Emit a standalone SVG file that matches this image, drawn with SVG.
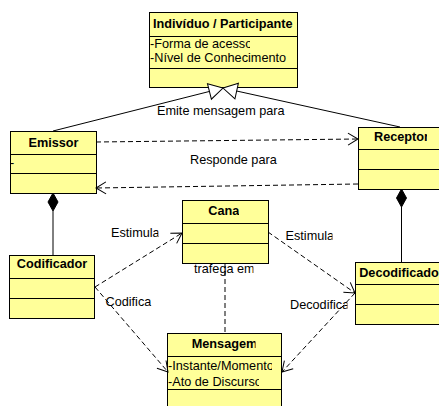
<svg xmlns="http://www.w3.org/2000/svg" width="439" height="406" viewBox="0 0 439 406">
<defs>
<style>
text{font-family:"Liberation Sans",Arial,sans-serif;font-size:12.7px;fill:#000}
.hd{font-weight:bold;text-anchor:middle}
.box{fill:#ffff99;stroke:#000;stroke-width:1}
.sep{stroke:#000;stroke-width:1}
.ln{fill:none;stroke:#000;stroke-width:1}
.dl{fill:none;stroke:#000;stroke-width:1;stroke-dasharray:5 3}
.dia{fill:#000;stroke:#000;stroke-width:1}
</style>
<!-- open arrowhead for dependencies -->
<marker id="open" viewBox="0 0 11 13" refX="10" refY="6.5" markerWidth="11" markerHeight="13" markerUnits="userSpaceOnUse" orient="auto" overflow="visible">
<path d="M0,0.5 L10,6.5 L0,12.5" fill="none" stroke="#000" stroke-width="1"/>
</marker>
<!-- hollow triangle for generalization -->
<marker id="gen" viewBox="0 0 15 17" refX="14" refY="8.5" markerWidth="15" markerHeight="17" markerUnits="userSpaceOnUse" orient="auto" overflow="visible">
<path d="M0,0.5 L14,8.5 L0,16.5 Z" fill="#fff" stroke="#000" stroke-width="1"/>
</marker>
<clipPath id="cInd"><rect x="140" y="10" width="156" height="30"/></clipPath>
<clipPath id="cAce"><rect x="140" y="38" width="110" height="14"/></clipPath>
<clipPath id="cRec"><rect x="360" y="125" width="67" height="25"/></clipPath>
<clipPath id="cCan"><rect x="184" y="200" width="55" height="22"/></clipPath>
<clipPath id="cMen"><rect x="170" y="334" width="85.5" height="20"/></clipPath>
<clipPath id="cIns"><rect x="160" y="357" width="112" height="16"/></clipPath>
<clipPath id="cAto"><rect x="160" y="374" width="99" height="16"/></clipPath>
<clipPath id="cEs1"><rect x="100" y="222" width="58.5" height="20"/></clipPath>
<clipPath id="cEs2"><rect x="280" y="226" width="52.5" height="20"/></clipPath>
<clipPath id="cTra"><rect x="190" y="260" width="63.5" height="18"/></clipPath>
<clipPath id="cCod"><rect x="100" y="292" width="51.5" height="18"/></clipPath>
<clipPath id="cDec"><rect x="285" y="295" width="62.5" height="18"/></clipPath>
</defs>

<g id="individuo">
<rect class="box" x="149.5" y="12.5" width="148" height="75"/>
<line class="sep" x1="149.5" y1="36.5" x2="297.5" y2="36.5"/>
<line class="sep" x1="149.5" y1="68.5" x2="297.5" y2="68.5"/>
<text x="153" y="28" font-weight="bold" clip-path="url(#cInd)">Indivíduo / Participante</text>
<text x="150" y="48" clip-path="url(#cAce)">-Forma de acesso</text>
<text x="150" y="62">-Nível de Conhecimento</text>
</g>

<g id="emissor">
<rect class="box" x="10.5" y="131.5" width="86" height="62"/>
<line class="sep" x1="10.5" y1="154.5" x2="96.5" y2="154.5"/>
<line class="sep" x1="10.5" y1="173.5" x2="96.5" y2="173.5"/>
<text class="hd" x="53.5" y="147">Emissor</text>
<text x="10" y="167">-</text>
</g>

<g id="receptor">
<rect class="box" x="358.5" y="127.5" width="87" height="62"/>
<line class="sep" x1="358.5" y1="149.5" x2="445.5" y2="149.5"/>
<line class="sep" x1="358.5" y1="169.5" x2="445.5" y2="169.5"/>
<text class="hd" x="401.5" y="141" clip-path="url(#cRec)">Receptor</text>
</g>

<g id="canal">
<rect class="box" x="182.5" y="200.5" width="86" height="63"/>
<line class="sep" x1="182.5" y1="223.5" x2="268.5" y2="223.5"/>
<line class="sep" x1="182.5" y1="243.5" x2="268.5" y2="243.5"/>
<text class="hd" x="225.5" y="215" clip-path="url(#cCan)">Canal</text>
</g>

<g id="codificador">
<rect class="box" x="9.5" y="255.5" width="85" height="63"/>
<line class="sep" x1="9.5" y1="278.5" x2="94.5" y2="278.5"/>
<line class="sep" x1="9.5" y1="298.5" x2="94.5" y2="298.5"/>
<text class="hd" x="52" y="268">Codificador</text>
</g>

<g id="decodificador">
<rect class="box" x="355.5" y="262.5" width="93" height="62"/>
<line class="sep" x1="355.5" y1="284.5" x2="448.5" y2="284.5"/>
<line class="sep" x1="355.5" y1="304.5" x2="448.5" y2="304.5"/>
<text class="hd" x="401.5" y="277">Decodificador</text>
</g>

<g id="mensagem">
<rect class="box" x="167.5" y="333.5" width="114" height="80"/>
<line class="sep" x1="167.5" y1="356.5" x2="281.5" y2="356.5"/>
<line class="sep" x1="167.5" y1="389.5" x2="281.5" y2="389.5"/>
<text class="hd" x="224.5" y="347.5" clip-path="url(#cMen)">Mensagem</text>
<text x="168" y="370" clip-path="url(#cIns)">-Instante/Momento</text>
<text x="168" y="386" clip-path="url(#cAto)">-Ato de Discurso</text>
</g>

<g id="connectors">
<!-- generalization -->
<path class="ln" d="M53,131 L223,88" marker-end="url(#gen)"/>
<path class="ln" d="M400,127 L223,88" marker-end="url(#gen)"/>
<!-- composition -->
<line class="ln" x1="53" y1="211" x2="53" y2="255"/>
<polygon class="dia" points="53,193 58,202 53,211 48,202"/>
<line class="ln" x1="401.5" y1="207" x2="401.5" y2="262"/>
<polygon class="dia" points="401.5,189 406.5,198 401.5,207 396.5,198"/>
<!-- dependencies -->
<path class="dl" d="M96,142 L358,139" marker-end="url(#open)"/>
<path class="dl" d="M358,184 L96,188" marker-end="url(#open)"/>
<path class="dl" d="M95,287 L182,233" marker-end="url(#open)"/>
<path class="dl" d="M268,232 L355,293" marker-end="url(#open)"/>
<path class="dl" d="M95,287 L168,372" marker-end="url(#open)"/>
<path class="dl" d="M355,293 L282,372" marker-end="url(#open)"/>
<path class="dl" d="M225,263 L225,333"/>
<!-- labels -->
<text x="157" y="115">Emite mensagem para</text>
<text x="190" y="164">Responde para</text>
<text x="111" y="237" clip-path="url(#cEs1)">Estimula</text>
<text x="285.5" y="240" clip-path="url(#cEs2)">Estimula</text>
<text x="194" y="273" clip-path="url(#cTra)">trafega em</text>
<text x="105.5" y="306" clip-path="url(#cCod)">Codifica</text>
<text x="290" y="309" clip-path="url(#cDec)">Decodifica</text>
</g>
</svg>
